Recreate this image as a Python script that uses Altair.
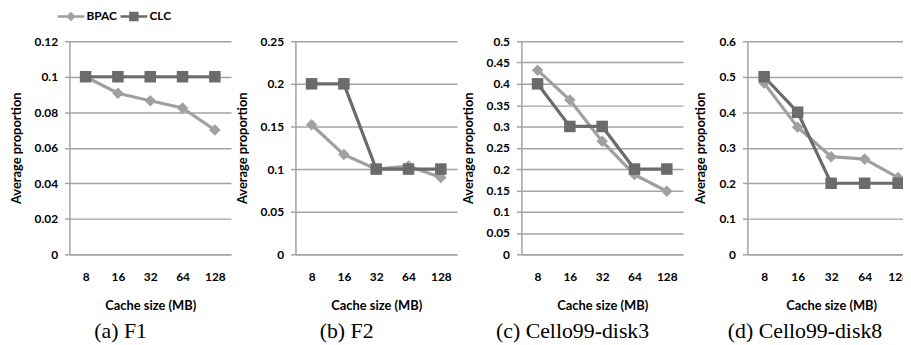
import altair as alt
import pandas as pd

sizes = ["8", "16", "32", "64", "128"]
series_names = ["BPAC", "CLC"]
captions = ["(a) F1", "(b) F2", "(c) Cello99-disk3", "(d) Cello99-disk8"]

bpac_f1 = [0.100, 0.0907, 0.0865, 0.0824, 0.0700]
clc_f1 = [0.100, 0.100, 0.100, 0.100, 0.100]
bpac_f2 = [0.152, 0.117, 0.100, 0.1035, 0.090]
clc_f2 = [0.200, 0.200, 0.100, 0.100, 0.100]
bpac_d3 = [0.432, 0.362, 0.265, 0.187, 0.148]
clc_d3 = [0.400, 0.300, 0.300, 0.200, 0.200]
bpac_d8 = [0.482, 0.358, 0.275, 0.268, 0.216]
clc_d8 = [0.500, 0.400, 0.200, 0.200, 0.200]

ticks_f1 = [0, 0.02, 0.04, 0.06, 0.08, 0.1, 0.12]
ticks_f2 = [0, 0.05, 0.1, 0.15, 0.2, 0.25]
ticks_d3 = [0, 0.05, 0.1, 0.15, 0.2, 0.25, 0.3, 0.35, 0.4, 0.45, 0.5]
ticks_d8 = [0, 0.1, 0.2, 0.3, 0.4, 0.5, 0.6]

COLORS = ["#a0a0a0", "#6b6b6b"]
PLOT_SHAPES = ["diamond", "square"]
LEGEND_SHAPES = [
    "M-1,0H1M0,-0.22L0.22,0L0,0.22L-0.22,0Z",
    "M-1,0H1M-0.26,-0.26H0.26V0.26H-0.26Z",
]
GRID = "#a3a3a3"
FONT = "Lato"
FS = 12

color_scale = alt.Scale(domain=series_names, range=COLORS)


def make_df(bpac, clc):
    rows = []
    for s, vals in zip(series_names, [bpac, clc]):
        for sz, v in zip(sizes, vals):
            rows.append({"size": sz, "series": s, "value": v})
    return pd.DataFrame(rows)


def panel(bpac, clc, ticks, width, caption):
    df = make_df(bpac, clc)
    base = alt.Chart(df).encode(
        x=alt.X(
            "size:O",
            sort=sizes,
            title="Cache size (MB)",
            axis=alt.Axis(labelAngle=0, ticks=False, grid=False, labelPadding=17, titlePadding=18),
        ),
        y=alt.Y(
            "value:Q",
            scale=alt.Scale(domain=[ticks[0], ticks[-1]], nice=False),
            title="Average proportion",
            axis=alt.Axis(values=ticks, format=".2~f", grid=True, tickSize=5, labelPadding=7, titlePadding=11),
        ),
    )
    lines = base.mark_line(strokeWidth=3.2).encode(
        color=alt.Color("series:N", scale=color_scale, legend=None),
        detail="series:N",
    )
    points = base.mark_point(filled=True, size=135, opacity=1).encode(
        color=alt.Color("series:N", scale=color_scale, legend=None),
        shape=alt.Shape("series:N", scale=alt.Scale(domain=series_names, range=PLOT_SHAPES), legend=None),
    )
    return alt.layer(lines, points).properties(
        width=width,
        height=215,
        title=alt.TitleParams(
            text=caption,
            orient="bottom",
            anchor="middle",
            frame="bounds",
            font="Liberation Serif",
            fontSize=22,
            fontWeight="normal",
            color="black",
            offset=8,
        ),
    )


# legend row, built from the series names
legend_df = pd.DataFrame({"series": series_names})
lbase = alt.Chart(legend_df).encode(
    x=alt.X("series:N", sort=series_names, axis=None, scale=alt.Scale(type="point", padding=0.5)),
)
leg_layers = []
for name, path in zip(series_names, LEGEND_SHAPES):
    leg_layers.append(
        lbase.transform_filter(alt.datum.series == name)
        .mark_point(shape=path, filled=True, size=729, strokeWidth=2.5, opacity=1, xOffset=-30.25)
        .encode(
            color=alt.Color("series:N", scale=color_scale, legend=None),
            stroke=alt.Stroke("series:N", scale=color_scale, legend=None),
        )
    )
leg_text = lbase.mark_text(
    align="left", baseline="middle", font=FONT, fontSize=FS, fontWeight="bold", color="black", xOffset=-14.5
).encode(text="series:N")
legend_row = alt.layer(*leg_layers, leg_text).properties(width=127, height=2)

panels = alt.hconcat(
    panel(bpac_f1, clc_f1, ticks_f1, 163, captions[0]),
    panel(bpac_f2, clc_f2, ticks_f2, 163, captions[1]),
    panel(bpac_d3, clc_d3, ticks_d3, 163, captions[2]),
    panel(bpac_d8, clc_d8, ticks_d8, 169, captions[3]),
    spacing=65,
    bounds="flush",
)

chart = alt.vconcat(legend_row, panels, spacing=24, bounds="flush").properties(
    autosize=alt.AutoSizeParams(type="none"),
    padding={"left": 62, "top": 6, "right": 841, "bottom": 331},
).configure_view(stroke=None).configure_axis(
    domainColor=GRID,
    domainWidth=1.5,
    gridColor=GRID,
    gridWidth=1.5,
    tickColor=GRID,
    tickWidth=1.5,
    labelFont=FONT,
    labelFontSize=FS,
    labelFontWeight="bold",
    labelColor="black",
    titleFont=FONT,
    titleFontSize=13,
    titleFontWeight="bold",
    titleColor="black",
)

chart.save("out.html", embed_options={"renderer": "svg", "actions": False})
